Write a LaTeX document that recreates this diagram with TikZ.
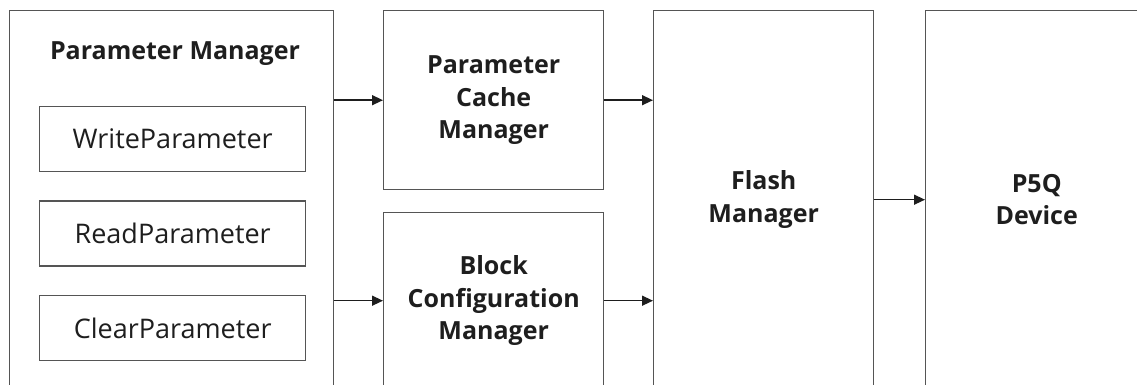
\documentclass[tikz,border=0pt]{standalone}
\usepackage{fontspec}
\setmainfont{Open Sans}
\usetikzlibrary{arrows.meta,positioning}
\definecolor{LineGray}{HTML}{555555}
\definecolor{InkGray}{HTML}{1E1E1E}

\begin{document}
\begin{tikzpicture}[
    x=1pt, y=-1pt,
    text=InkGray,
    block/.style={draw=LineGray, line width=1.4pt, anchor=north west, align=center, font=\fontsize{25}{32.5}\selectfont\bfseries, minimum width=220pt},
    func/.style={draw=LineGray, line width=1.4pt, align=center, font=\fontsize{27}{30}\selectfont, minimum width=266pt, minimum height=65pt},
    arr/.style={-{Triangle[length=11pt,width=10pt]}, line width=1.4pt, draw=InkGray}
]
\clip (0,0) rectangle (1137,385);

% outer manager with its three calls
\node[block, minimum width=324pt, minimum height=378pt] (pm) at (9,10) {};
\node[font=\fontsize{25}{30}\selectfont\bfseries] (pmtitle) at (175,54) {Parameter Manager};
\node[func, anchor=north west] (write) at (39,106) {WriteParameter};
\node[func, below=28pt of write] (read) {ReadParameter};
\node[func, below=28pt of read] (clear) {ClearParameter};

% middle column
\node[block, minimum height=179pt] (pcm) at (383,10) {Parameter\\Cache\\Manager};
\node[block, minimum height=176pt] (bcm) at (383,212) {Block\\Configuration\\Manager};

% flash layer and device
\node[block, minimum height=378pt] (fm) at (653,10) {Flash\\Manager};
\node[block, minimum width=222pt, minimum height=378pt] (dev) at (925,10) {P5Q\\Device};

\draw[arr] (pm.east |- pcm.west) -- (pcm.west);
\draw[arr] (pm.east |- bcm.west) -- (bcm.west);
\draw[arr] (pcm.east) -- (pcm.east -| fm.west);
\draw[arr] (bcm.east) -- (bcm.east -| fm.west);
\draw[arr] (fm.east) -- (dev.west);
\end{tikzpicture}
\end{document}
